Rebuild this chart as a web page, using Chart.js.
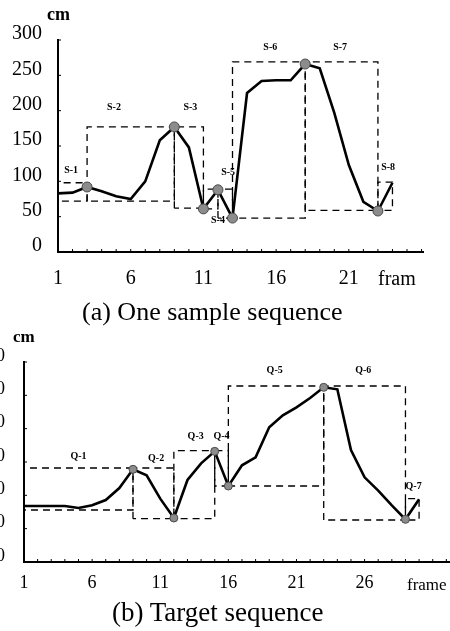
<!DOCTYPE html>
<html>
<head>
<meta charset="utf-8">
<script src="https://cdn.jsdelivr.net/npm/chart.js@4.4.1/dist/chart.umd.min.js"></script>
<style>
  body { margin: 0; background: #fff; width: 450px; height: 631px; overflow: hidden; position: relative;
         font-family: "Liberation Serif", "Times New Roman", serif; }
  .wrap { position: absolute; }
  .txt { position: absolute; white-space: nowrap; color: #000; line-height: 1; }
</style>
</head>
<body>
<div class="wrap" style="left:0;top:0;width:450px;height:300px"><canvas id="chartA"></canvas></div>
<div class="wrap" style="left:-60px;top:300px;width:530px;height:331px"><canvas id="chartB"></canvas></div>

<div class="txt" style="left:47px;top:5px;font-size:18px;font-weight:bold">cm</div>
<div class="txt" style="left:378px;top:268px;font-size:20px">fram</div>
<div class="txt" style="left:82px;top:299px;font-size:26px">(a) One sample sequence</div>

<div class="txt" style="left:13px;top:328px;font-size:17px;font-weight:bold">cm</div>
<div class="txt" style="left:407px;top:576px;font-size:17px">frame</div>
<div class="txt" style="left:112px;top:599px;font-size:27px">(b) Target sequence</div>

<script>
// (a) sample sequence
const framesA = [1, 2, 3, 4, 5, 6, 7, 8, 9, 10, 11, 12, 13, 14, 15, 16, 17, 18, 19, 20, 21, 22, 23, 24];
const heightA = [83, 84, 92, 86, 79, 75, 100, 158, 177, 148, 61, 88, 48, 225, 242, 243, 243, 266, 260, 197, 123, 71, 58, 98];
const keyFramesA = [3, 9, 11, 12, 13, 18, 23];
const segNamesA = ['S-1', 'S-2', 'S-3', 'S-4', 'S-5', 'S-6', 'S-7', 'S-8'];
const segStartA = [1, 3, 9, 11, 12, 13, 18, 23];
const segEndA = [3, 9, 11, 12, 13, 18, 23, 24];
const segLowA = [72, 72, 62, 61, 48, 48, 59, 59];
const segHighA = [98, 177, 177, 89, 89, 269, 269, 99];
const labelXA = [1.9, 4.85, 10.1, 12.0, 12.7, 15.6, 20.4, 23.7];
const labelYA = [116, 204, 204, 44, 112, 289, 289, 120];
const xTicksA = [1, 6, 11, 16, 21];

// (b) target sequence
const framesB = [1, 2, 3, 4, 5, 6, 7, 8, 9, 10, 11, 12, 13, 14, 15, 16, 17, 18, 19, 20, 21, 22, 23, 24, 25, 26, 27, 28, 29, 30];
const heightB = [84, 84, 84, 84, 81, 85, 93, 111, 139, 130, 95, 66, 123, 148, 166, 114, 145, 157, 202, 220, 232, 246, 262, 259, 168, 127, 107, 85, 64, 94];
const keyFramesB = [9, 12, 15, 16, 23, 29];
const segNamesB = ['Q-1', 'Q-2', 'Q-3', 'Q-4', 'Q-5', 'Q-6', 'Q-7'];
const segStartB = [1, 9, 12, 15, 16, 23, 29];
const segEndB = [9, 12, 15, 16, 23, 29, 30];
const segLowB = [78, 65, 65, 114, 114, 63, 63];
const segHighB = [141, 141, 167, 167, 264, 264, 95];
const labelXB = [5.0, 10.7, 13.6, 15.5, 19.4, 25.9, 29.6];
const labelYB = [158, 156, 188, 188, 288, 288, 113];
const xTicksB = [1, 6, 11, 16, 21, 26];

const yTicks = [0, 50, 100, 150, 200, 250, 300];

// small tick marks drawn inward off the axis lines
const innerTicks = {
  id: 'innerTicks',
  afterDraw(chart) {
    const ctx = chart.ctx, a = chart.chartArea;
    const xs = chart.scales.x, ys = chart.scales.y;
    ctx.save();
    ctx.strokeStyle = '#000';
    ctx.lineWidth = 1;
    xs.ticks.forEach(t => {
      const px = xs.getPixelForValue(t.value);
      ctx.beginPath(); ctx.moveTo(px, a.bottom); ctx.lineTo(px, a.bottom - 3); ctx.stroke();
    });
    ys.ticks.forEach(t => {
      const py = ys.getPixelForValue(t.value);
      ctx.beginPath(); ctx.moveTo(a.left, py); ctx.lineTo(a.left + 3, py); ctx.stroke();
    });
    ctx.restore();
  }
};

// segment names next to the dashed boxes
const segLabels = {
  id: 'segLabels',
  afterDatasetsDraw(chart, args, opts) {
    const ctx = chart.ctx, xs = chart.scales.x, ys = chart.scales.y;
    ctx.save();
    ctx.fillStyle = '#000';
    ctx.font = opts.font;
    ctx.textAlign = 'center';
    ctx.textBaseline = 'middle';
    opts.names.forEach((n, i) => {
      ctx.fillText(n, xs.getPixelForValue(opts.xs[i]), ys.getPixelForValue(opts.ys[i]));
    });
    ctx.restore();
  }
};

function makeChart(id, s) {
  const boxes = s.names.map((n, i) => ({
    data: [
      { x: s.start[i], y: s.low[i] }, { x: s.start[i], y: s.high[i] },
      { x: s.end[i], y: s.high[i] }, { x: s.end[i], y: s.low[i] },
      { x: s.start[i], y: s.low[i] }
    ],
    borderColor: '#000', borderWidth: 1.3, borderDash: [7, 5],
    pointRadius: 0, fill: false, tension: 0, order: 2
  }));
  const curve = {
    data: s.frames.map((f, i) => ({ x: f, y: s.values[i] })),
    borderColor: '#000', borderWidth: 2.6, pointRadius: 0, fill: false, tension: 0, order: 1
  };
  const dots = {
    data: s.keys.map(f => ({ x: f, y: s.values[s.frames.indexOf(f)] })),
    showLine: false, pointRadius: s.dotR, backgroundColor: '#8c8c8c', borderColor: '#4a4a4a',
    borderWidth: 1, order: 0
  };

  return new Chart(document.getElementById(id), {
    type: 'line',
    data: { datasets: [dots, curve].concat(boxes) },
    options: {
      responsive: true,
      maintainAspectRatio: false,
      animation: false,
      layout: { padding: s.padding },
      plugins: {
        legend: { display: false },
        tooltip: { enabled: false },
        segLabels: { names: s.names, xs: s.labelX, ys: s.labelY, font: 'bold 10px "Liberation Serif"' }
      },
      scales: {
        x: {
          type: 'linear', min: 1, max: s.xMax,
          afterFit: sc => { sc.height = s.xH; },
          afterBuildTicks: sc => {
            const t = [];
            for (let v = 1; v <= Math.floor(s.xMax); v++) t.push({ value: v });
            sc.ticks = t;
          },
          grid: { display: true, drawOnChartArea: false, drawTicks: false },
          border: { display: true, color: '#000', width: 2 },
          ticks: {
            autoSkip: false, maxRotation: 0, padding: s.xPad, color: '#000',
            font: { family: '"Liberation Serif"', size: s.tickSize },
            callback: v => s.xTicks.includes(v) ? String(v) : ''
          }
        },
        y: {
          min: 0, max: 300,
          afterFit: sc => { sc.width = s.yW; },
          afterBuildTicks: sc => { sc.ticks = yTicks.map(v => ({ value: v })); },
          grid: { display: true, drawOnChartArea: false, drawTicks: false },
          border: { display: true, color: '#000', width: 2 },
          ticks: {
            padding: s.yPad, color: '#000', labelOffset: -6,
            font: { family: '"Liberation Serif"', size: s.tickSize }
          }
        }
      }
    },
    plugins: [innerTicks, segLabels]
  });
}

makeChart('chartA', {
  frames: framesA, values: heightA, keys: keyFramesA, names: segNamesA,
  start: segStartA, end: segEndA, low: segLowA, high: segHighA,
  labelX: labelXA, labelY: labelYA, xTicks: xTicksA,
  xMax: 26.1, xH: 48, yW: 58, xPad: 15, yPad: 16, tickSize: 20, dotR: 5,
  padding: { left: 0, top: 40, right: 27, bottom: 0 }
});

makeChart('chartB', {
  frames: framesB, values: heightB, keys: keyFramesB, names: segNamesB,
  start: segStartB, end: segEndB, low: segLowB, high: segHighB,
  labelX: labelXB, labelY: labelYB, xTicks: xTicksB,
  xMax: 33.3, xH: 69, yW: 84, xPad: 10, yPad: 19, tickSize: 18, dotR: 4,
  padding: { left: 0, top: 62, right: 0, bottom: 0 }
});
</script>
</body>
</html>
